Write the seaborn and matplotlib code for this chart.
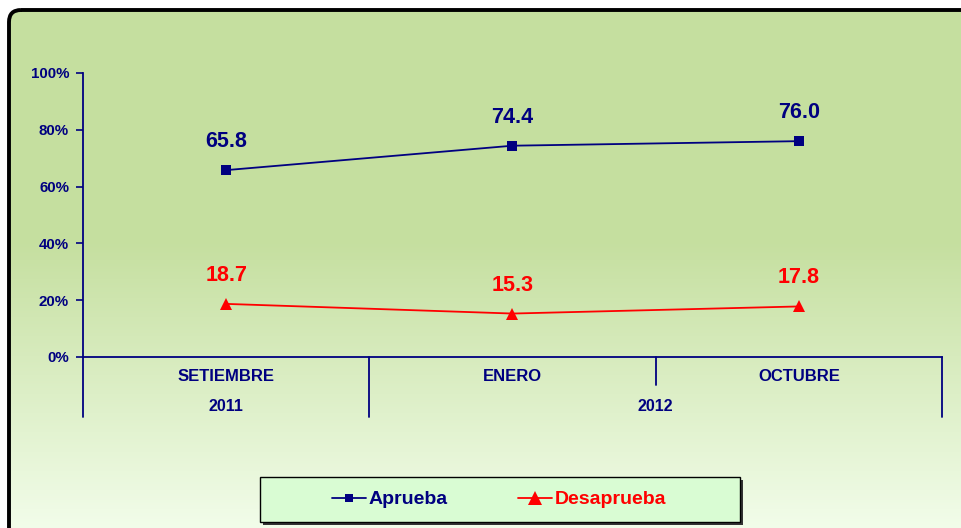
import numpy as np
import pandas as pd
import matplotlib
matplotlib.use("Agg")
import matplotlib.pyplot as plt
import seaborn as sns
from matplotlib.patches import FancyBboxPatch, Rectangle
from matplotlib.lines import Line2D


# chart data
months = ["SETIEMBRE", "ENERO", "OCTUBRE"]
years = ["2011", "2012"]
year_months = [[0], [1, 2]]  # which months belong to each year
aprueba = [65.8, 74.4, 76.0]
desaprueba = [18.7, 15.3, 17.8]
y_ticks = [0, 20, 40, 60, 80, 100]

series = ["Aprueba", "Desaprueba"]
colors = {"Aprueba": "#000080", "Desaprueba": "#ff0000"}
markers = {"Aprueba": "s", "Desaprueba": "^"}
marker_sizes = {"Aprueba": 7, "Desaprueba": 9}

df = pd.DataFrame({
    "pos": list(range(len(months))) * 2,
    "value": aprueba + desaprueba,
    "serie": ["Aprueba"] * len(months) + ["Desaprueba"] * len(months),
})

sns.set_theme(style="white")
plt.rcParams["font.family"] = ["Liberation Sans", "DejaVu Sans"]
plt.rcParams["font.weight"] = "bold"

NAVY = "#000080"
W, H = 962, 528
fig = plt.figure(figsize=(W / 100, H / 100), dpi=100)
fig.patch.set_facecolor("white")


# background: rounded black frame filled with a green gradient
bg = fig.add_axes([0, 0, 1, 1], zorder=-10)
bg.set_xlim(0, W)
bg.set_ylim(H, 0)
bg.axis("off")

rows = np.arange(H)[:, None]
t = np.clip((rows - 240) / (H - 240), 0, 1)
top = np.array([0xc5, 0xdf, 0x9f]) / 255
bottom = np.array([0xf2, 0xfd, 0xea]) / 255
grad = (top * (1 - t) + bottom * t)[:, None, :]
grad = np.repeat(grad, 2, axis=1)
img = bg.imshow(grad, extent=(0, W, H, 0), aspect="auto", zorder=0)

frame = FancyBboxPatch((9, 10), W + 30, H + 30,
                       boxstyle="round,pad=0,rounding_size=12",
                       facecolor="none", edgecolor="black", linewidth=2.8, zorder=2)
bg.add_patch(frame)
img.set_clip_path(frame)

# legend box with shadow
bg.add_patch(Rectangle((263, 480), 480, 45, facecolor="#333333", edgecolor="none", zorder=3))
bg.add_patch(Rectangle((260, 477), 480, 45, facecolor="#d9fcd3", edgecolor="black",
                       linewidth=1.0, zorder=4))


# main plot
ax = fig.add_axes([83 / W, 1 - 357 / H, 859 / W, 284 / H])
ax.set_facecolor("none")

sns.lineplot(
    data=df, x="pos", y="value", hue="serie", style="serie",
    palette=colors, markers=markers, dashes=False,
    markersize=7, markeredgewidth=0, linewidth=1.3,
    legend=False, ax=ax,
)
# triangles look bigger than squares in the original
for line in ax.lines:
    if line.get_marker() == "^":
        line.set_markersize(marker_sizes["Desaprueba"])

for name, vals in zip(series, [aprueba, desaprueba]):
    for i, v in enumerate(vals):
        ax.annotate(f"{v:.1f}", (i, v), xytext=(0, 20.5), textcoords="offset points",
                    ha="center", va="center", fontsize=15.5, fontweight="bold",
                    color=colors[name])

ax.set_xlim(-0.5, len(months) - 0.5)
ax.set_ylim(0, 100)
ax.set_yticks(y_ticks)
ax.set_yticklabels([f"{v}%" for v in y_ticks])
ax.set_xticks([])
ax.set_xlabel("")
ax.set_ylabel("")
ax.tick_params(axis="y", direction="out", length=5, width=1.2, colors=NAVY,
               labelsize=10.8, pad=5, left=True)
for s in ["top", "right"]:
    ax.spines[s].set_visible(False)
for s in ["left", "bottom"]:
    ax.spines[s].set_color(NAVY)
    ax.spines[s].set_linewidth(1.3)

# two-level category axis
xt = ax.get_xaxis_transform()
for i, m in enumerate(months):
    ax.text(i, -0.07, m, transform=xt, ha="center", va="center",
            fontsize=12, fontweight="bold", color=NAVY)
for yr, idx in zip(years, year_months):
    ax.text(np.mean(idx), -0.176, yr, transform=xt, ha="center", va="center",
            fontsize=11.5, fontweight="bold", color=NAVY)

# separators: full-depth between years, short between months of one year
for idx in year_months:
    ax.plot([idx[0] - 0.5] * 2, [0, -0.211], transform=xt, clip_on=False,
            color=NAVY, lw=1.3)
    for j in idx[1:]:
        ax.plot([j - 0.5] * 2, [0, -0.099], transform=xt, clip_on=False,
                color=NAVY, lw=1.3)
ax.plot([len(months) - 0.5] * 2, [0, -0.211], transform=xt, clip_on=False,
        color=NAVY, lw=1.3)


# legend
handles = [
    Line2D([], [], color=colors[s], marker=markers[s], lw=1.3,
           markersize=6 if s == "Aprueba" else 10, markeredgewidth=0)
    for s in series
]
fig.legend(handles, series, loc="center", bbox_to_anchor=(499 / W, 1 - 499.5 / H),
           ncol=2, frameon=False, handlelength=1.75, handletextpad=0.15,
           columnspacing=3.6, labelcolor="linecolor",
           prop={"size": 14, "weight": "bold"})

fig.savefig("out.png", dpi=100)
